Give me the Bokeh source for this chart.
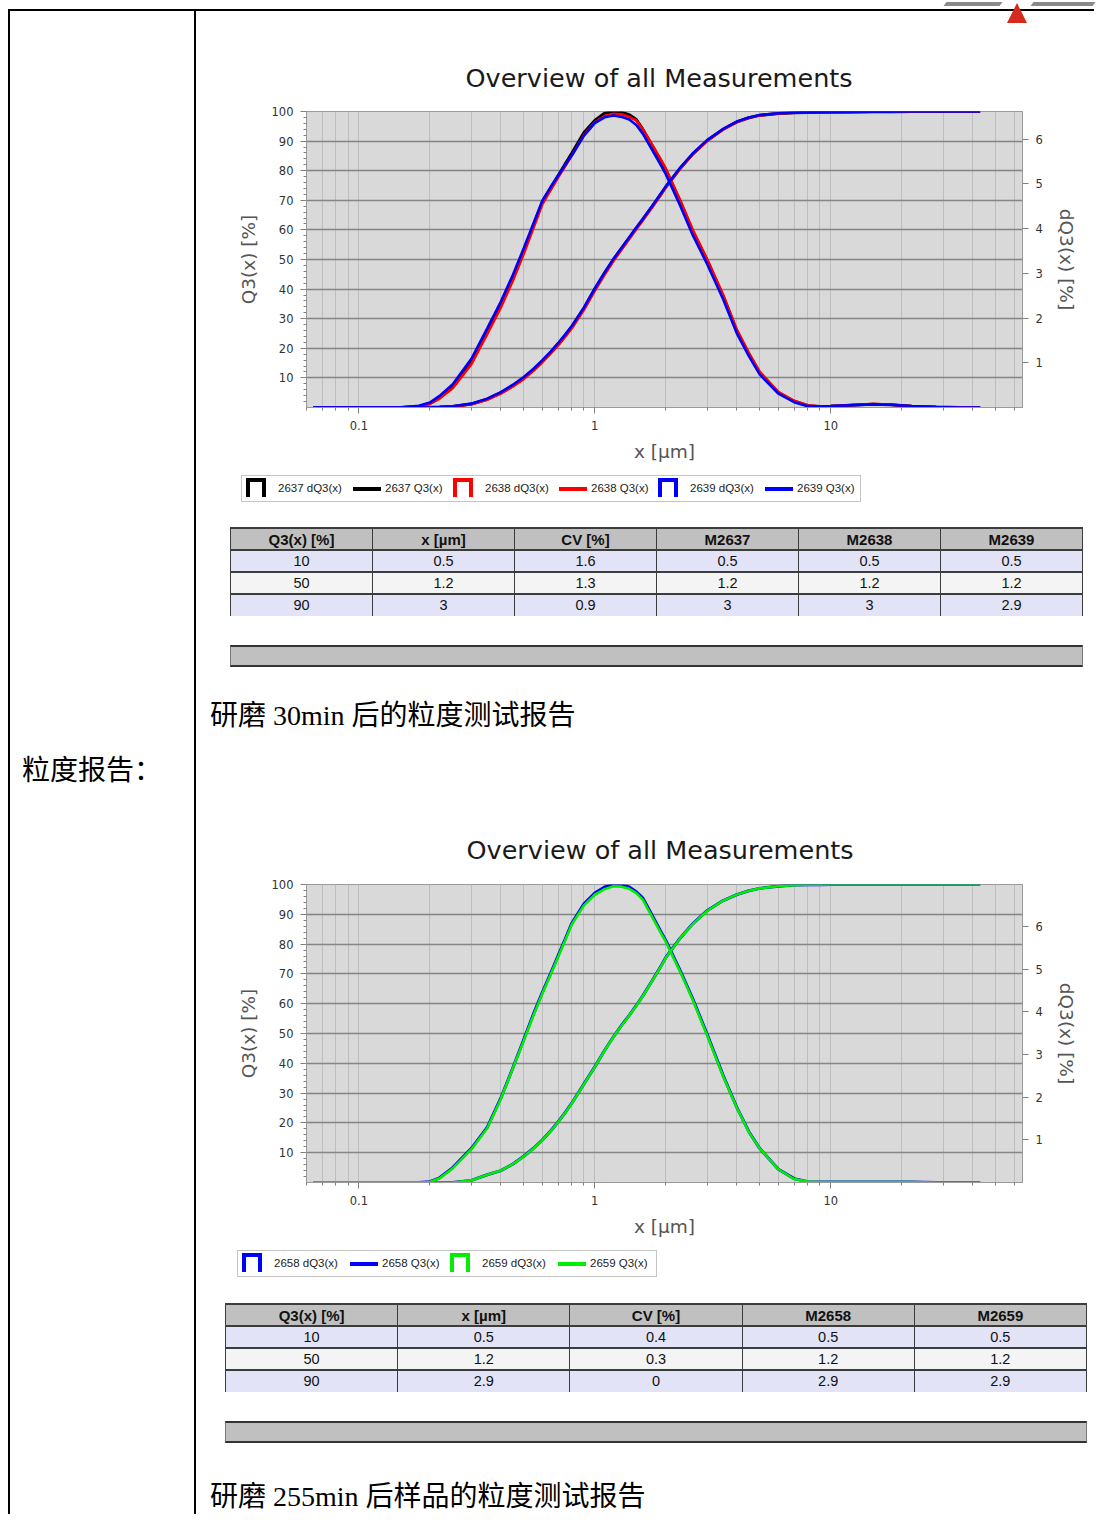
from bokeh.plotting import figure
from bokeh.models import Range1d, LinearAxis, FixedTicker, Div, NumeralTickFormatter
from bokeh.layouts import row, column
from bokeh.embed import file_html
from bokeh.resources import INLINE

# ---------------- data ----------------
x_um = [0.064, 0.1, 0.15, 0.18, 0.2, 0.22, 0.25, 0.3, 0.35, 0.4, 0.45, 0.5, 0.55, 0.6,
        0.65, 0.7, 0.75, 0.8, 0.9, 1.0, 1.1, 1.2, 1.3, 1.4, 1.5, 1.6, 1.75, 1.9, 2.0,
        2.3, 2.6, 3.0, 3.5, 4.0, 4.5, 5.0, 6.0, 7.0, 8.0, 9.0, 10, 12, 15, 18, 22, 28,
        35, 43]

# chart 1 (30 min)
dq_2637 = [0, 0, 0, 0.03, 0.09, 0.22, 0.47, 1.02, 1.70, 2.30, 2.90, 3.50, 4.07, 4.60,
           4.91, 5.19, 5.45, 5.69, 6.15, 6.42, 6.58, 6.62, 6.60, 6.55, 6.44, 6.22, 5.86,
           5.52, 5.32, 4.61, 3.94, 3.28, 2.49, 1.71, 1.19, 0.77, 0.33, 0.14, 0.04, 0.02,
           0.03, 0.05, 0.07, 0.06, 0.03, 0.01, 0, 0]
dq_2638 = [0, 0, 0, 0.02, 0.08, 0.20, 0.43, 0.97, 1.64, 2.24, 2.84, 3.44, 4.02, 4.55,
           4.86, 5.15, 5.40, 5.64, 6.09, 6.38, 6.52, 6.57, 6.56, 6.50, 6.42, 6.22, 5.88,
           5.56, 5.34, 4.64, 3.98, 3.31, 2.52, 1.74, 1.22, 0.80, 0.35, 0.15, 0.05, 0.02,
           0.03, 0.05, 0.08, 0.06, 0.03, 0.01, 0, 0]
dq_2639 = [0, 0, 0, 0.04, 0.11, 0.26, 0.52, 1.09, 1.77, 2.37, 2.97, 3.56, 4.12, 4.63,
           4.93, 5.19, 5.43, 5.64, 6.08, 6.36, 6.49, 6.53, 6.50, 6.44, 6.32, 6.12, 5.76,
           5.43, 5.22, 4.52, 3.86, 3.20, 2.42, 1.66, 1.15, 0.74, 0.31, 0.12, 0.03, 0.02,
           0.03, 0.05, 0.07, 0.06, 0.03, 0.01, 0, 0]
q3_2637 = [0, 0, 0, 0, 0.05, 0.15, 0.35, 1.2, 2.8, 5.0, 7.4, 10.0, 12.8, 15.7, 18.6, 21.5,
           24.4, 27.3, 33.5, 40.0, 45.3, 50.0, 53.8, 57.3, 60.6, 63.6, 67.9, 71.9, 74.5,
           80.8, 85.6, 90.2, 94.0, 96.5, 97.9, 98.7, 99.3, 99.6, 99.7, 99.75, 99.8, 99.85,
           99.9, 99.95, 100, 100, 100, 100]
q3_2638 = [0, 0, 0, 0, 0.04, 0.12, 0.30, 1.1, 2.6, 4.7, 7.1, 9.6, 12.4, 15.3, 18.2, 21.0,
           23.9, 26.8, 33.0, 39.4, 44.8, 49.5, 53.4, 56.9, 60.2, 63.3, 67.6, 71.6, 74.3,
           80.6, 85.5, 90.1, 93.9, 96.4, 97.9, 98.7, 99.3, 99.6, 99.7, 99.75, 99.8, 99.85,
           99.9, 99.95, 100, 100, 100, 100]
q3_2639 = [0, 0, 0, 0, 0.06, 0.17, 0.40, 1.3, 3.0, 5.2, 7.7, 10.3, 13.1, 16.0, 18.9, 21.8,
           24.7, 27.6, 33.8, 40.2, 45.6, 50.2, 54.0, 57.5, 60.8, 63.8, 68.1, 72.1, 74.7,
           81.0, 85.8, 90.4, 94.1, 96.6, 98.0, 98.8, 99.4, 99.6, 99.7, 99.75, 99.8, 99.85,
           99.9, 99.95, 100, 100, 100, 100]

# chart 2 (255 min)
dq_2658 = [0, 0, 0, 0, 0.02, 0.11, 0.35, 0.80, 1.29, 1.98, 2.69, 3.35, 3.95, 4.46,
           4.90, 5.32, 5.71, 6.08, 6.53, 6.78, 6.92, 6.98, 6.97, 6.92, 6.81, 6.66, 6.26,
           5.89, 5.67, 4.97, 4.31, 3.46, 2.51, 1.76, 1.19, 0.80, 0.31, 0.09, 0.02, 0.01,
           0.01, 0.01, 0.01, 0.01, 0.01, 0, 0, 0]
dq_2659 = [0, 0, 0, 0, 0.01, 0.10, 0.33, 0.78, 1.27, 1.96, 2.68, 3.32, 3.92, 4.43,
           4.87, 5.29, 5.68, 6.05, 6.49, 6.74, 6.87, 6.94, 6.93, 6.88, 6.78, 6.62, 6.22,
           5.86, 5.64, 4.94, 4.28, 3.43, 2.49, 1.75, 1.18, 0.80, 0.31, 0.08, 0.02, 0.01,
           0.01, 0.01, 0.01, 0.01, 0.01, 0, 0, 0]
q3_2658 = [0, 0, 0, 0, 0, 0, 0, 0.7, 2.6, 4.0, 6.2, 8.8, 11.5, 14.3, 17.3, 20.4, 23.5,
           26.7, 33.1, 38.8, 44.3, 48.9, 52.8, 56.1, 59.4, 62.7, 67.7, 72.4, 75.5, 82.0,
           86.8, 91.3, 94.6, 96.6, 97.9, 98.7, 99.4, 99.8, 99.9, 99.95, 100, 100, 100, 100,
           100, 100, 100, 100]
q3_2659 = [0, 0, 0, 0, 0, 0, 0, 0.7, 2.6, 4.0, 6.2, 8.7, 11.4, 14.2, 17.2, 20.3, 23.4,
           26.6, 33.0, 38.7, 44.2, 48.8, 52.7, 56.0, 59.3, 62.6, 67.6, 72.3, 75.4, 81.9,
           86.7, 91.2, 94.6, 96.6, 97.9, 98.7, 99.4, 99.8, 99.9, 99.95, 100, 100, 100, 100,
           100, 100, 100, 100]

chart_title = "Overview of all Measurements"
x_major = [0.1, 1, 10]
x_minor = [0.06, 0.07, 0.08, 0.09, 0.2, 0.3, 0.4, 0.5, 0.6, 0.7, 0.8, 0.9,
           2, 3, 4, 5, 6, 7, 8, 9, 20, 30, 40, 50, 60]
q3_ticks = [10, 20, 30, 40, 50, 60, 70, 80, 90, 100]
dq_ticks = [1, 2, 3, 4, 5, 6]

table_cols_1 = ["Q3(x) [%]", "x [µm]", "CV [%]", "M2637", "M2638", "M2639"]
table_rows_1 = [["10", "0.5", "1.6", "0.5", "0.5", "0.5"],
                ["50", "1.2", "1.3", "1.2", "1.2", "1.2"],
                ["90", "3", "0.9", "3", "3", "2.9"]]
table_cols_2 = ["Q3(x) [%]", "x [µm]", "CV [%]", "M2658", "M2659"]
table_rows_2 = [["10", "0.5", "0.4", "0.5", "0.5"],
                ["50", "1.2", "0.3", "1.2", "1.2"],
                ["90", "2.9", "0", "2.9", "2.9"]]

legend_1 = [("2637 dQ3(x)", "#000000", "bar"), ("2637 Q3(x)", "#000000", "line"),
            ("2638 dQ3(x)", "#ff0000", "bar"), ("2638 Q3(x)", "#ff0000", "line"),
            ("2639 dQ3(x)", "#0000ff", "bar"), ("2639 Q3(x)", "#0000ff", "line")]
legend_2 = [("2658 dQ3(x)", "#0000ff", "bar"), ("2658 Q3(x)", "#0000ff", "line"),
            ("2659 dQ3(x)", "#00ee00", "bar"), ("2659 Q3(x)", "#00ee00", "line")]

caption_1 = "研磨 30min 后的粒度测试报告"
caption_2 = "研磨 255min 后样品的粒度测试报告"
left_label = "粒度报告："

COL_W = 896
PAGE_W = 1086


def build_chart(series, dq_max, frame_w, frame_h, mb_l, mb_t, mb_b, title_standoff, title_offset):
    mb_r = COL_W - mb_l - frame_w
    p = figure(width=COL_W, height=mb_t + frame_h + mb_b, x_axis_type="log",
               x_range=Range1d(0.06, 65), y_range=Range1d(0, 100),
               output_backend="svg", toolbar_location=None,
               min_border_left=mb_l, min_border_right=mb_r,
               min_border_top=mb_t, min_border_bottom=mb_b, title=chart_title)
    p.margin = 0
    p.title.align = "left"
    p.title.offset = title_offset
    p.title.text_font = "DejaVu Sans"
    p.title.text_font_size = "25.5px"
    p.title.text_font_style = "normal"
    p.title.text_color = "#1a1a1a"
    p.title.standoff = title_standoff
    p.background_fill_color = "#d9d9d9"
    p.border_fill_color = "white"
    p.outline_line_color = "#9a9a9a"
    p.extra_y_ranges = {"dq": Range1d(0, dq_max)}

    p.xaxis.ticker = FixedTicker(ticks=x_major, minor_ticks=x_minor)
    p.xaxis.formatter = NumeralTickFormatter(format="0.[0]")
    p.xaxis.axis_label = "x [µm]"
    p.yaxis.ticker = FixedTicker(ticks=q3_ticks,
                                 minor_ticks=[v for v in range(2, 100, 2) if v % 10])
    p.yaxis.axis_label = "Q3(x) [%]"
    ax_r = LinearAxis(y_range_name="dq", ticker=FixedTicker(ticks=dq_ticks),
                      axis_label="dQ3(x) [%]")
    p.add_layout(ax_r, "right")

    for ax in [p.xaxis[0], p.yaxis[0], ax_r]:
        ax.axis_line_color = "#9a9a9a"
        ax.major_tick_line_color = "#808080"
        ax.minor_tick_line_color = "#808080"
        ax.major_tick_in = 0
        ax.major_tick_out = 6
        ax.minor_tick_in = 0
        ax.minor_tick_out = 3
        ax.major_label_text_font = "DejaVu Sans"
        ax.major_label_text_font_size = "11.5px"
        ax.major_label_text_color = "#333333"
        ax.major_label_standoff = 7
        ax.axis_label_text_font = "DejaVu Sans"
        ax.axis_label_text_font_size = "18.5px"
        ax.axis_label_text_font_style = "normal"
        ax.axis_label_text_color = "#555555"
    ax_r.minor_tick_line_color = None
    p.xaxis.axis_label_standoff = 8
    p.yaxis.axis_label_standoff = 10
    ax_r.axis_label_standoff = 10

    p.xgrid.grid_line_color = "#bdbdbd"
    p.xgrid.minor_grid_line_color = "#bdbdbd"
    p.ygrid.grid_line_color = "#858585"
    p.ygrid.grid_line_width = 1.3

    for dq, q3, color, lw in series:
        p.line(x_um, q3, line_color=color, line_width=lw)
        p.line(x_um, dq, line_color=color, line_width=lw, y_range_name="dq")
    return p


def legend_html(items, offsets, left, top, width):
    parts = []
    for (label, color, kind), off in zip(items, offsets):
        if kind == "bar":
            icon = (f'<div style="position:absolute;left:{off}px;top:2px;width:20px;height:19px;'
                    f'border:4px solid {color};border-bottom:none;"></div>')
        else:
            icon = (f'<div style="position:absolute;left:{off}px;top:11px;width:28px;height:4px;'
                    f'background:{color};"></div>')
        txt = (f'<div style="position:absolute;left:{off + 32}px;top:5px;white-space:nowrap;'
               f'line-height:15px;">{label}</div>')
        parts.append(icon + txt)
    return (f'<div style="position:absolute;left:{left}px;top:{top}px;width:{width}px;height:27px;'
            f'box-sizing:border-box;border:1px solid #c4c4c4;'
            f'font-family:\'Liberation Sans\',sans-serif;font-size:11.5px;'
            f'color:#222;">{"".join(parts)}</div>')


def table_html(cols, rows, left, top, width):
    bd = "#3c3c3c"
    head = "".join(f'<th style="border:1px solid {bd};border-top:2px solid {bd};'
                   f'border-bottom:2px solid {bd};padding:0;height:22px;font-weight:bold;'
                   f'font-family:\'Liberation Sans\',sans-serif;font-size:15px;">{c}</th>'
                   for c in cols)
    body = ""
    bgs = ["#e3e3f7", "#f4f4f4", "#e3e3f7"]
    for i, r in enumerate(rows):
        top_b = "border-top:2px solid " + bd + ";" if i > 0 else ""
        cells = "".join(f'<td style="border-left:1px solid {bd};border-right:1px solid {bd};'
                        f'{top_b}padding:0;height:22px;text-align:center;">{v}</td>' for v in r)
        body += f'<tr style="background:{bgs[i]};">{cells}</tr>'
    return (f'<table style="position:absolute;left:{left}px;top:{top}px;width:{width}px;'
            f'border-collapse:collapse;table-layout:fixed;font-family:\'Liberation Sans Narrow\','
            f'\'Liberation Sans\',sans-serif;font-size:14.5px;color:#111;line-height:1;">'
            f'<tr style="background:#c0c0c0;">{head}</tr>{body}</table>')


def bar_html(left, top, width):
    return (f'<div style="position:absolute;left:{left}px;top:{top}px;width:{width}px;height:22px;'
            f'box-sizing:border-box;background:#c0c0c0;border-top:2px solid #333;'
            f'border-bottom:2px solid #333;border-left:1px solid #777;border-right:1px solid #777;"></div>')


def caption_html(text, left, top):
    return (f'<div style="position:absolute;left:{left}px;top:{top}px;white-space:nowrap;'
            f'font-family:\'Liberation Serif\',\'Noto Sans CJK SC\',serif;font-size:28px;'
            f'line-height:1;color:#000;">{text}</div>')


def section_div(inner, height):
    html = (f'<div style="position:relative;width:{COL_W}px;height:{height}px;">{inner}</div>')
    return Div(text=html, width=COL_W, height=height, margin=0)


fig1 = build_chart([(dq_2637, q3_2637, "#000000", 3.0),
                    (dq_2638, q3_2638, "#ff0000", 2.6),
                    (dq_2639, q3_2639, "#0000ff", 2.6)],
                   6.62, 716, 296, 110, 101, 63, 38, 159)
fig2 = build_chart([(dq_2658, q3_2658, "#0000ff", 3.0),
                    (dq_2659, q3_2659, "#00ee00", 2.6)],
                   6.98, 722, 298, 107, 84, 63, 40, 160)

divA = section_div(legend_html(legend_1, [4, 111, 211, 317, 416, 523], 45, 5, 620)
                   + table_html(table_cols_1, table_rows_1, 34, 57, 853)
                   + bar_html(34, 175, 853)
                   + caption_html(caption_1, 14, 232), 330)
divB = section_div(legend_html(legend_2, [4, 112, 212, 320], 41, 5, 420)
                   + table_html(table_cols_2, table_rows_2, 29, 58, 862)
                   + bar_html(29, 176, 862)
                   + caption_html(caption_2, 14, 238), 269)

# header strip: top border of the outer table plus the clipped logo corner
header_html = (f'<div style="position:relative;width:{PAGE_W}px;height:10px;">'
               f'<div style="position:absolute;left:0;top:7px;width:{PAGE_W}px;height:2px;background:#000;"></div>'
               f'<div style="position:absolute;left:937px;top:0;width:56px;height:4px;background:#8a8a8a;'
               f'transform:skewX(-35deg);"></div>'
               f'<div style="position:absolute;left:1024px;top:0;width:62px;height:4px;background:#8a8a8a;'
               f'transform:skewX(-35deg);"></div>'
               f'<div style="position:absolute;left:999px;top:1px;width:0;height:0;'
               f'border-left:10px solid transparent;border-right:10px solid transparent;'
               f'border-bottom:20px solid #d52b1e;"></div></div>')
header = Div(text=header_html, width=PAGE_W, height=10, margin=0,
             styles={"z-index": "5", "overflow": "visible"})

BODY_H = 1504
left_div = Div(text=(f'<div style="position:relative;width:188px;height:{BODY_H}px;'
                     f'box-sizing:border-box;border-left:2px solid #000;border-right:2px solid #000;">'
                     f'<div style="position:absolute;left:12px;top:744px;'
                     f'font-family:\'Noto Sans CJK SC\',sans-serif;font-size:28px;line-height:1;'
                     f'white-space:nowrap;color:#000;">{left_label}</div></div>'),
               width=188, height=BODY_H, margin=0)

right_col = column(fig1, divA, fig2, divB, spacing=0, margin=0)
body = row(left_div, right_col, spacing=0, margin=0)
layout = column(header, body, spacing=0, margin=(0, 0, 0, 8))

open("out.html", "w").write(file_html(layout, INLINE, "粒度报告"))
